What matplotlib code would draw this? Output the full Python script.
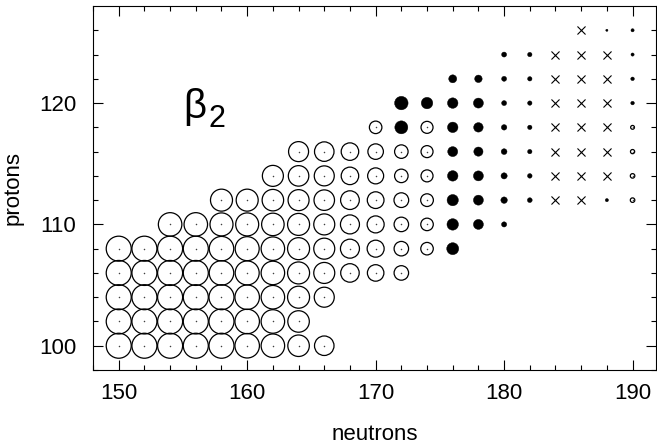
import numpy as np
import matplotlib.pyplot as plt

plt.rcParams['font.family'] = ['Liberation Sans', 'DejaVu Sans']

# quadrupole deformation beta2 on the (N, Z) grid, one list per proton row,
# neutron numbers start at first_n and go up in steps of 2
# positive -> open circle, negative -> filled circle, None -> cross
protons = [100, 102, 104, 106, 108, 110, 112, 114, 116, 118, 120, 122, 124, 126]
first_n = [150, 150, 150, 150, 150, 154, 158, 162, 164, 170, 172, 176, 180, 186]

b100 = [0.25, 0.25, 0.25, 0.25, 0.25, 0.245, 0.235, 0.215, 0.195]
b102 = [0.25, 0.25, 0.25, 0.25, 0.25, 0.245, 0.235, 0.215]
b104 = [0.25, 0.25, 0.25, 0.25, 0.25, 0.245, 0.235, 0.22, 0.20]
b106 = [0.25, 0.25, 0.25, 0.25, 0.245, 0.24, 0.235, 0.22, 0.21, 0.185, 0.165, 0.145]
b108 = [0.25, 0.25, 0.25, 0.25, 0.245, 0.24, 0.235, 0.22, 0.21, 0.19, 0.17, 0.145,
        0.125, -0.12]
b110 = [0.235, 0.235, 0.23, 0.23, 0.225, 0.22, 0.21, 0.19, 0.17, 0.145, 0.125,
        -0.115, -0.10, -0.052]
b112 = [0.22, 0.22, 0.215, 0.21, 0.205, 0.187, 0.167, 0.147, 0.127, -0.113, -0.10,
        -0.065, -0.048, None, None, -0.032, 0.045]
b114 = [0.21, 0.205, 0.20, 0.175, 0.16, 0.135, 0.12, -0.105, -0.10, -0.062, -0.046,
        None, None, None, 0.045]
b116 = [0.20, 0.195, 0.175, 0.155, 0.135, 0.12, -0.10, -0.092, -0.058, -0.044,
        None, None, None, 0.042]
b118 = [0.125, -0.13, 0.12, -0.105, -0.095, -0.055, -0.044, None, None, None, 0.038]
b120 = [-0.135, -0.115, -0.105, -0.10, -0.05, -0.044, None, None, None, -0.036]
b122 = [-0.08, -0.075, -0.05, -0.044, None, None, None, -0.036]
b124 = [-0.05, -0.044, None, None, None, -0.032]
b126 = [None, -0.022, -0.032]

rows = [b100, b102, b104, b106, b108, b110, b112, b114, b116, b118, b120, b122,
        b124, b126]

open_n, open_z, open_b = [], [], []
fill_n, fill_z, fill_b = [], [], []
cross_n, cross_z = [], []
for z, n0, vals in zip(protons, first_n, rows):
    for i, b in enumerate(vals):
        n = n0 + 2 * i
        if b is None:
            cross_n.append(n)
            cross_z.append(z)
        elif b > 0:
            open_n.append(n)
            open_z.append(z)
            open_b.append(b)
        else:
            fill_n.append(n)
            fill_z.append(z)
            fill_b.append(b)

# marker diameter ~ 100 px per unit of |beta2| (72 pt at 100 dpi)
def msize(b):
    return (72 * np.abs(np.array(b))) ** 2

fig, ax = plt.subplots(figsize=(6.57, 4.46), dpi=100)
fig.subplots_adjust(left=0.1416, right=0.998, bottom=0.1704, top=0.9865)

ax.scatter(open_n, open_z, s=msize(open_b), facecolors='none',
           edgecolors='black', linewidths=0.9)
ax.scatter(open_n, open_z, s=1.2, color='0.25', linewidths=0)
ax.scatter(fill_n, fill_z, s=msize(fill_b), color='black', linewidths=0.3)
ax.scatter(cross_n, cross_z, s=5.8 ** 2, marker='x', color='black',
           linewidths=0.8)

ax.text(155.0, 118.8, 'β', fontsize=29)
ax.text(157.0, 118.0, '2', fontsize=22)

ax.set_xlim(148, 191.8)
ax.set_ylim(98, 128)
ax.set_xticks([150, 160, 170, 180, 190])
ax.set_xticks(np.arange(148, 192, 2), minor=True)
ax.set_yticks([100, 110, 120])
ax.set_yticks(np.arange(98, 128, 2), minor=True)

ax.tick_params(which='both', direction='in', top=True, right=True,
               width=0.8, labelsize=16)
ax.tick_params(which='major', length=7)
ax.tick_params(which='minor', length=3.5)
ax.tick_params(axis='x', pad=9)
ax.tick_params(axis='y', pad=12)
for sp in ax.spines.values():
    sp.set_linewidth(0.8)

ax.set_xlabel('neutrons', fontsize=16, labelpad=15)
ax.set_ylabel('protons', fontsize=16, labelpad=11)

plt.savefig('out.png', dpi=100)
